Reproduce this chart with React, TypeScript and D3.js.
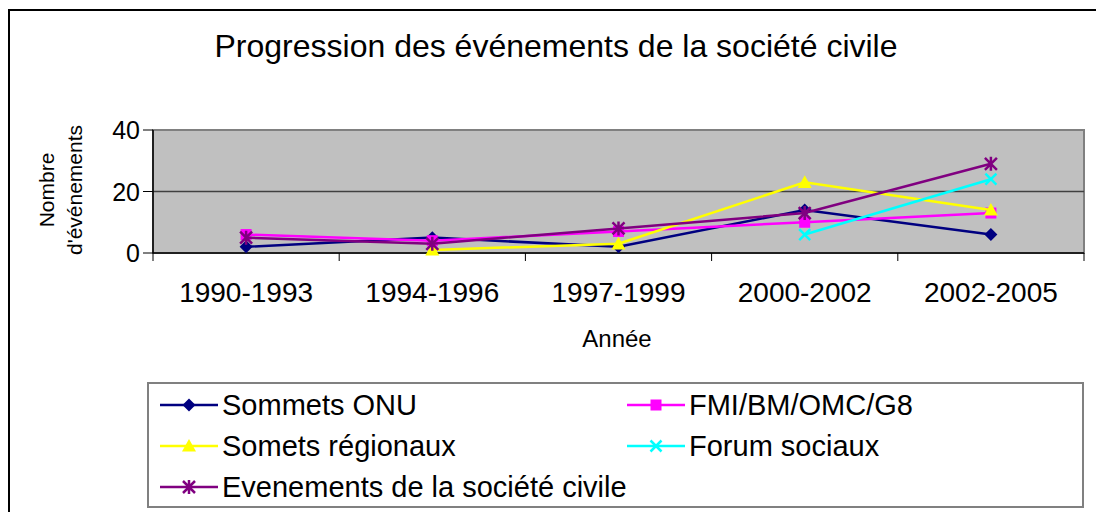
import React from "react";
import * as d3 from "d3";

const categories = ["1990-1993", "1994-1996", "1997-1999", "2000-2002", "2002-2005"];
const seriesNames = ["Sommets ONU", "FMI/BM/OMC/G8", "Somets régionaux", "Forum sociaux", "Evenements de la société civile"];
const sommetsOnu: (number | null)[] = [2, 5, 2, 14, 6];
const fmi: (number | null)[] = [6, 4, 7, 10, 13];
const regionaux: (number | null)[] = [null, 1, 3, 23, 14];
const forum: (number | null)[] = [null, null, null, 6, 24];
const evenements: (number | null)[] = [5, 3, 8, 13, 29];
const yTicks = [0, 20, 40];
const colors = ["#000080", "#FF00FF", "#FFFF00", "#00FFFF", "#800080"];
const markers = ["diamond", "square", "triangle", "x", "star"];
const seriesValues = [sommetsOnu, fmi, regionaux, forum, evenements];

const FONT = "'Liberation Sans', Arial, sans-serif";

function Marker({ type, x, y, color }: { type: string; x: number; y: number; color: string }) {
  if (type === "diamond") {
    const r = 6.5;
    return <path d={`M${x},${y - r}L${x + r},${y}L${x},${y + r}L${x - r},${y}Z`} fill={color} />;
  }
  if (type === "square") {
    const r = 5.5;
    return <rect x={x - r} y={y - r} width={2 * r} height={2 * r} fill={color} />;
  }
  if (type === "triangle") {
    const r = 7;
    return <path d={`M${x},${y - r}L${x + r},${y + r * 0.8}L${x - r},${y + r * 0.8}Z`} fill={color} />;
  }
  if (type === "x") {
    const r = 5.5;
    return (
      <path d={`M${x - r},${y - r}L${x + r},${y + r}M${x - r},${y + r}L${x + r},${y - r}`} stroke={color} strokeWidth={2.5} />
    );
  }
  const r = 6;
  return (
    <path
      d={`M${x - r},${y - r}L${x + r},${y + r}M${x - r},${y + r}L${x + r},${y - r}M${x},${y - r - 1}L${x},${y + r + 1}`}
      stroke={color}
      strokeWidth={2.5}
    />
  );
}

export default function App() {
  const left = 153, right = 1084, top = 130, bottom = 253;
  const x = d3.scaleBand<string>().domain(categories).range([left, right]);
  const y = d3.scaleLinear().domain([0, 40]).range([bottom, top]);
  const cx = (c: string) => (x(c) as number) + x.bandwidth() / 2;
  const line = d3
    .line<[string, number | null]>()
    .defined((d) => d[1] !== null)
    .x((d) => cx(d[0]))
    .y((d) => y(d[1] as number));

  const boundaries = categories.map((c) => x(c) as number).concat([right]);

  const legendItems = [
    { i: 0, lx: 160, ly: 405 },
    { i: 1, lx: 627, ly: 405 },
    { i: 2, lx: 160, ly: 446 },
    { i: 3, lx: 627, ly: 446 },
    { i: 4, lx: 160, ly: 487 },
  ];

  return (
    <div style={{ position: "absolute", left: 0, top: 0 }}>
      <svg width={1096} height={512} style={{ display: "block", fontFamily: FONT }}>
        <rect x={0} y={0} width={1096} height={512} fill="#fff" />
        <rect x={9} y={10} width={1200} height={600} fill="none" stroke="#000" strokeWidth={2} />
        <text x={556} y={57} textAnchor="middle" fontSize={32} fill="#000">
          Progression des événements de la société civile
        </text>
        {/* plot area */}
        <rect x={left} y={top} width={right - left} height={bottom - top} fill="#C0C0C0" stroke="#808080" strokeWidth={2} />
        {yTicks.map((t) => (
          <g key={t}>
            {t > 0 && <line x1={left} x2={right} y1={y(t)} y2={y(t)} stroke={t === 40 ? "#808080" : "#404040"} strokeWidth={1.5} />}
            <line x1={left - 10} x2={left} y1={y(t)} y2={y(t)} stroke="#000" strokeWidth={1} />
            <text x={140} y={y(t)} dy="0.36em" textAnchor="end" fontSize={25} fill="#000">
              {t}
            </text>
          </g>
        ))}
        <line x1={left} x2={left} y1={top} y2={bottom} stroke="#000" strokeWidth={1.5} />
        <line x1={left} x2={right} y1={bottom} y2={bottom} stroke="#000" strokeWidth={1.5} />
        {boundaries.map((b, i) => (
          <line key={i} x1={b} x2={b} y1={bottom} y2={bottom + 8} stroke="#000" strokeWidth={1} />
        ))}
        {categories.map((c) => (
          <text key={c} x={cx(c)} y={302} textAnchor="middle" fontSize={28} fill="#000">
            {c}
          </text>
        ))}
        <text x={617} y={347} textAnchor="middle" fontSize={24} fill="#000">
          Année
        </text>
        <g transform="translate(54,190) rotate(-90)">
          <text x={0} y={0} textAnchor="middle" fontSize={21} fill="#000">
            Nombre
          </text>
          <text x={0} y={28} textAnchor="middle" fontSize={21} fill="#000">
            d'événements
          </text>
        </g>
        {/* series */}
        {seriesValues.map((vals, si) => {
          const pts = categories.map((c, i) => [c, vals[i]] as [string, number | null]);
          return (
            <g key={si}>
              <path d={line(pts) || ""} fill="none" stroke={colors[si]} strokeWidth={2.5} />
              {pts
                .filter((p) => p[1] !== null)
                .map((p, j) => (
                  <Marker key={j} type={markers[si]} x={cx(p[0])} y={y(p[1] as number)} color={colors[si]} />
                ))}
            </g>
          );
        })}
        {/* legend */}
        <rect x={148} y={383} width={935} height={124} fill="#fff" stroke="#808080" strokeWidth={2} />
        {legendItems.map(({ i, lx, ly }) => (
          <g key={i}>
            <line x1={lx} x2={lx + 58} y1={ly} y2={ly} stroke={colors[i]} strokeWidth={2.5} />
            <Marker type={markers[i]} x={lx + 29} y={ly} color={colors[i]} />
            <text x={lx + 62} y={ly} dy="0.36em" fontSize={29} fill="#000">
              {seriesNames[i]}
            </text>
          </g>
        ))}
      </svg>
    </div>
  );
}
